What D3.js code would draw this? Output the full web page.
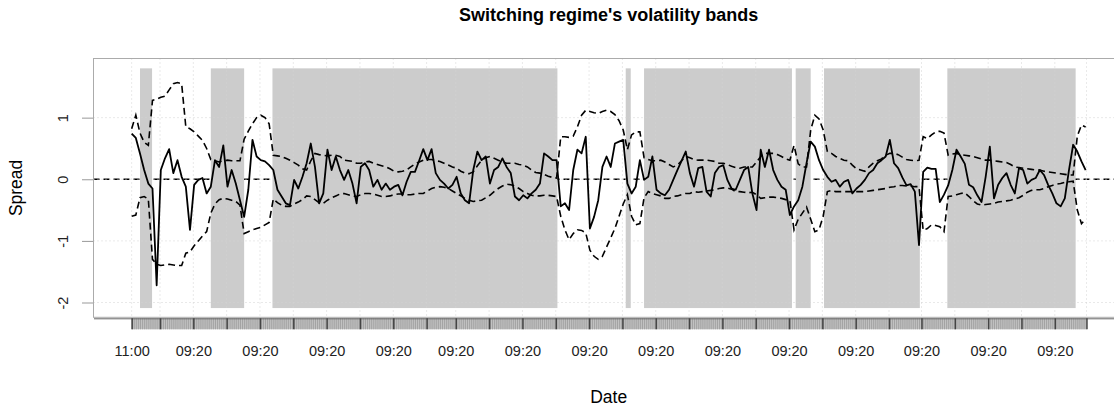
<!DOCTYPE html>
<html>
<head>
<meta charset="utf-8">
<script src="https://cdn.jsdelivr.net/npm/d3@7"></script>
<style>
  body { margin: 0; background: #fff; }
  svg { font-family: "Liberation Sans", Arial, sans-serif; }
</style>
</head>
<body>
<svg id="chart" width="1114" height="408"></svg>
<script>
// spread, one value per observation (index 0..229)
const spread = [
  0.74, 0.67, 0.42, 0.15, -0.07, -0.15, -1.72, 0.15, 0.34, 0.49,
  0.10, 0.31, 0.04, -0.12, -0.82, -0.09, -0.01, 0.02, -0.23, -0.12,
  0.31, 0.20, 0.55, -0.12, 0.15, -0.07, -0.34, -0.61, -0.17, 0.64,
  0.37, 0.31, 0.29, 0.23, 0.15, -0.17, -0.28, -0.39, -0.42, -0.01,
  -0.15, 0.04, 0.26, 0.58, 0.20, -0.39, -0.23, 0.48, 0.15, 0.37,
  0.15, -0.01, 0.15, -0.07, -0.39, 0.20, 0.26, 0.15, -0.12, -0.01,
  -0.17, -0.07, -0.17, -0.12, -0.09, -0.26, -0.04, 0.12, 0.12, 0.30,
  0.49, 0.31, 0.49, 0.10, -0.01, -0.07, -0.15, -0.09, 0.04, -0.23,
  -0.34, -0.39, 0.15, 0.45, 0.31, 0.37, -0.07, 0.15, 0.20, 0.34,
  0.20, 0.10, -0.28, -0.34, -0.26, -0.31, -0.23, -0.17, -0.07, 0.42,
  0.37, 0.31, 0.31, -0.44, -0.39, -0.50, 0.15, 0.48, 0.42, 0.69,
  -0.80, -0.61, -0.34, 0.20, 0.37, 0.20, 0.58, 0.61, 0.64, -0.07,
  -0.23, -0.12, 0.31, -0.01, 0.04, 0.37, -0.17, -0.23, -0.26, -0.17,
  -0.01, 0.15, 0.30, 0.45, 0.10, -0.12, 0.18, 0.20, -0.20, -0.28,
  0.10, 0.20, 0.23, -0.01, -0.15, -0.17, -0.01, 0.15, 0.20, -0.23,
  -0.50, 0.48, 0.20, 0.48, 0.15, -0.01, -0.12, -0.17, -0.58, -0.44,
  -0.34, -0.12, 0.26, 0.61, 0.53, 0.31, 0.15, 0.04, -0.04, -0.01,
  -0.12, -0.04, -0.01, -0.23, -0.15, -0.09, -0.01, 0.10, 0.15, 0.26,
  0.31, 0.37, 0.64, 0.26, 0.18, 0.03, -0.10, -0.08, -0.20, -1.07,
  0.12, 0.19, 0.17, 0.17, -0.37, -0.25, -0.10, 0.15, 0.48, 0.37,
  0.25, -0.09, -0.13, -0.26, -0.37, 0.04, 0.53, -0.31, -0.09, 0.02,
  0.10, -0.09, -0.23, 0.18, 0.15, -0.07, -0.01, 0.02, 0.15, 0.07,
  -0.09, -0.23, -0.39, -0.44, -0.31, 0.15, 0.56, 0.45, 0.29, 0.15
];

// upper volatility band, same index
const upperBand = [
  0.82, 1.04, 0.75, 0.60, 0.55, 1.28, 1.30, 1.33, 1.35, 1.45,
  1.55, 1.57, 1.55, 0.85, 0.82, 0.77, 0.70, 0.63, 0.50, 0.32,
  0.30, 0.28, 0.30, 0.31, 0.30, 0.30, 0.30, 0.65, 0.78, 0.90,
  1.00, 1.04, 1.00, 0.90, 0.39, 0.38, 0.37, 0.34, 0.31, 0.27,
  0.23, 0.17, 0.15, 0.30, 0.42, 0.40, 0.39, 0.38, 0.39, 0.39,
  0.37, 0.31, 0.30, 0.29, 0.26, 0.26, 0.28, 0.29, 0.26, 0.24,
  0.22, 0.20, 0.17, 0.13, 0.12, 0.13, 0.15, 0.20, 0.25, 0.28,
  0.31, 0.32, 0.32, 0.30, 0.29, 0.26, 0.23, 0.20, 0.18, 0.13,
  0.10, 0.09, 0.12, 0.22, 0.31, 0.35, 0.37, 0.34, 0.31, 0.28,
  0.26, 0.26, 0.26, 0.24, 0.23, 0.20, 0.15, 0.11, 0.10, 0.08,
  0.05, 0.03, 0.02, 0.69, 0.69, 0.68, 0.70, 0.85, 1.04, 1.12,
  1.10, 1.08, 1.07, 1.10, 1.12, 1.10, 1.05, 0.95, 0.80, 0.48,
  0.72, 0.77, 0.77, 0.35, 0.32, 0.30, 0.30, 0.31, 0.28, 0.24,
  0.20, 0.23, 0.30, 0.37, 0.35, 0.32, 0.31, 0.31, 0.31, 0.30,
  0.29, 0.26, 0.26, 0.24, 0.21, 0.19, 0.18, 0.20, 0.20, 0.20,
  0.28, 0.37, 0.42, 0.42, 0.42, 0.40, 0.37, 0.33, 0.31, 0.55,
  0.25, 0.20, 0.20, 0.80, 1.04, 0.98, 0.80, 0.45, 0.42, 0.37,
  0.34, 0.31, 0.30, 0.23, 0.17, 0.15, 0.13, 0.20, 0.26, 0.30,
  0.33, 0.39, 0.42, 0.42, 0.40, 0.36, 0.32, 0.31, 0.30, 0.31,
  0.69, 0.66, 0.72, 0.77, 0.78, 0.75, 0.39, 0.41, 0.42, 0.40,
  0.39, 0.38, 0.37, 0.35, 0.33, 0.31, 0.31, 0.30, 0.29, 0.28,
  0.27, 0.24, 0.20, 0.19, 0.18, 0.17, 0.16, 0.15, 0.15, 0.13,
  0.12, 0.11, 0.10, 0.09, 0.08, 0.07, 0.07, 0.70, 0.88, 0.85
];

// lower volatility band, same index
const lowerBand = [
  -0.60, -0.58, -0.30, -0.28, -0.32, -1.30, -1.38, -1.40, -1.39, -1.38,
  -1.39, -1.40, -1.40, -1.20, -1.18, -1.08, -1.00, -0.92, -0.85, -0.55,
  -0.40, -0.33, -0.31, -0.32, -0.34, -0.36, -0.42, -0.88, -0.85, -0.82,
  -0.80, -0.78, -0.74, -0.70, -0.32, -0.38, -0.42, -0.44, -0.44, -0.40,
  -0.37, -0.33, -0.27, -0.28, -0.33, -0.38, -0.39, -0.34, -0.30, -0.27,
  -0.24, -0.23, -0.25, -0.27, -0.28, -0.25, -0.23, -0.23, -0.24, -0.26,
  -0.28, -0.28, -0.27, -0.25, -0.24, -0.24, -0.25, -0.25, -0.24, -0.23,
  -0.23, -0.19, -0.15, -0.13, -0.12, -0.13, -0.15, -0.19, -0.23, -0.27,
  -0.31, -0.34, -0.36, -0.35, -0.34, -0.30, -0.26, -0.20, -0.15, -0.11,
  -0.08, -0.09, -0.11, -0.15, -0.20, -0.23, -0.26, -0.27, -0.27, -0.26,
  -0.26, -0.27, -0.28, -0.60, -0.82, -0.98, -0.88, -0.82, -0.83, -0.87,
  -1.15, -1.25, -1.30, -1.25, -1.10, -0.95, -0.80, -0.60, -0.40, -0.25,
  -0.60, -0.74, -0.72, -0.30, -0.20, -0.23, -0.25, -0.27, -0.31, -0.31,
  -0.28, -0.27, -0.25, -0.23, -0.23, -0.20, -0.21, -0.20, -0.19, -0.18,
  -0.17, -0.15, -0.14, -0.14, -0.16, -0.20, -0.20, -0.21, -0.22, -0.21,
  -0.25, -0.31, -0.30, -0.29, -0.29, -0.30, -0.31, -0.33, -0.34, -0.82,
  -0.65, -0.55, -0.45, -0.65, -0.85, -0.82, -0.60, -0.20, -0.18, -0.20,
  -0.20, -0.20, -0.20, -0.20, -0.20, -0.20, -0.20, -0.19, -0.18, -0.17,
  -0.16, -0.15, -0.13, -0.12, -0.10, -0.10, -0.11, -0.11, -0.12, -0.12,
  -0.83, -0.80, -0.74, -0.75, -0.77, -0.85, -0.28, -0.27, -0.25, -0.23,
  -0.22, -0.28, -0.35, -0.40, -0.42, -0.41, -0.40, -0.39, -0.37, -0.36,
  -0.35, -0.34, -0.32, -0.30, -0.26, -0.21, -0.18, -0.17, -0.17, -0.15,
  -0.12, -0.10, -0.08, -0.07, -0.05, -0.04, -0.03, -0.50, -0.72, -0.65
];

// shaded (low volatility) regimes, start/end as observation index
const regimeStart = [2.0, 19.0, 33.8, 118.6, 123.0, 159.4, 166.2, 195.8];
const regimeEnd   = [4.9, 27.0, 102.2, 119.8, 158.5, 163.0, 189.2, 226.6];
const shadeRange = [-2.09, 1.8];

// date axis ticks (observation index) and their labels
const tickIdx = [0, 6.8, 14.8, 22.8, 30.8, 38.8, 46.8, 54.8, 62.8, 70.8,
  77.8, 85.8, 93.8, 101.8, 109.8, 117.8, 125.8, 133.8, 141.8, 149.8,
  157.8, 165.8, 173.8, 181.8, 189.6, 197.6, 205.6, 213.6, 221.6, 229.2];
const tickLabels = ["11:00", "", "09:20", "", "09:20", "", "09:20", "", "09:20", "",
  "09:20", "", "09:20", "", "09:20", "", "09:20", "", "09:20", "",
  "09:20", "", "09:20", "", "09:20", "", "09:20", "", "09:20", ""];
const yTicks = [-2, -1, 0, 1];

const width = 1114, height = 408;
const box = {left: 93.5, right: 1123.8, top: 58.5, bottom: 317.3};
const n = spread.length;

const x = d3.scaleLinear()
  .domain([-0.04 * (n - 1), (n - 1) * 1.04])
  .range([box.left, box.right]);
const y = d3.scaleLinear()
  .domain([-2.24, 1.96])
  .range([box.bottom, box.top]);

const svg = d3.select("#chart");

// zero reference line (sits under the regime shading)
svg.append("line")
  .attr("x1", box.left).attr("x2", box.right)
  .attr("y1", y(0)).attr("y2", y(0))
  .attr("stroke", "#000")
  .attr("stroke-width", 1.4)
  .attr("stroke-dasharray", "6,4");

// regime shading
svg.append("g")
  .selectAll("rect")
  .data(d3.range(regimeStart.length))
  .join("rect")
    .attr("x", k => x(regimeStart[k]))
    .attr("width", k => x(regimeEnd[k]) - x(regimeStart[k]))
    .attr("y", y(shadeRange[1]))
    .attr("height", y(shadeRange[0]) - y(shadeRange[1]))
    .attr("fill", "#cccccc");

// dotted grid
const grid = svg.append("g")
  .attr("stroke", "#d3d3d3")
  .attr("stroke-dasharray", "1,3");
grid.selectAll("line.v")
  .data(tickIdx)
  .join("line")
    .attr("class", "v")
    .attr("x1", d => x(d)).attr("x2", d => x(d))
    .attr("y1", box.top).attr("y2", box.bottom);
grid.selectAll("line.h")
  .data(yTicks)
  .join("line")
    .attr("class", "h")
    .attr("x1", box.left).attr("x2", box.right)
    .attr("y1", d => y(d)).attr("y2", d => y(d));

// volatility bands
const line = d3.line()
  .x((d, i) => x(i))
  .y(d => y(d));

[upperBand, lowerBand].forEach(band => {
  svg.append("path")
    .attr("d", line(band))
    .attr("fill", "none")
    .attr("stroke", "#000")
    .attr("stroke-width", 1.6)
    .attr("stroke-dasharray", "7,4");
});

// spread
svg.append("path")
  .attr("d", line(spread))
  .attr("fill", "none")
  .attr("stroke", "#000")
  .attr("stroke-width", 1.8)
  .attr("stroke-linejoin", "round");

// plot frame
svg.append("rect")
  .attr("x", box.left).attr("y", box.top)
  .attr("width", box.right - box.left)
  .attr("height", box.bottom - box.top)
  .attr("fill", "none")
  .attr("stroke", "#ababab");

// y axis
const yAxis = d3.axisLeft(y).tickValues(yTicks).tickSize(11).tickFormat(d3.format("d"));
const gy = svg.append("g")
  .attr("transform", `translate(${box.left - 0.5},0)`)
  .call(yAxis);
gy.select(".domain").remove();
gy.selectAll(".tick line").attr("stroke", "#999");
gy.selectAll(".tick text")
  .attr("x", null).attr("dy", null)
  .attr("transform", "translate(-25,0) rotate(-90)")
  .attr("text-anchor", "middle")
  .attr("font-size", 14.5)
  .attr("font-family", "Liberation Sans, Arial, sans-serif")
  .attr("fill", "#222")
  .text(d => d3.format("d")(d).replace("−", "-"));

// x axis: a strip of dense minor ticks, then major ticks with labels
const axisY = box.bottom + 1;
const tickLen = 11;
svg.append("rect")
  .attr("x", x(tickIdx[0]))
  .attr("y", axisY)
  .attr("width", x(tickIdx[tickIdx.length - 1]) - x(tickIdx[0]))
  .attr("height", tickLen)
  .attr("fill", "#c2c2c2");

const minor = d3.range(0, n - 0.5, 0.5);
const gMinor = svg.append("g")
  .attr("transform", `translate(0,${axisY})`)
  .call(d3.axisBottom(x).tickValues(minor).tickSize(tickLen).tickSizeOuter(0).tickFormat(""));
gMinor.selectAll(".tick line").attr("stroke", "#9a9a9a").attr("stroke-width", 0.8);
gMinor.select(".domain").remove();

const gx = svg.append("g")
  .attr("transform", `translate(0,${axisY})`)
  .call(d3.axisBottom(x).tickValues(tickIdx).tickSize(tickLen).tickSizeOuter(0)
    .tickFormat((d, i) => tickLabels[i]));
gx.select(".domain").attr("stroke", "#666");
gx.selectAll(".tick line").attr("stroke", "#444").attr("stroke-width", 1.5);
gx.selectAll(".tick text")
  .attr("y", 38).attr("dy", null)
  .attr("font-size", 14.5)
  .attr("font-family", "Liberation Sans, Arial, sans-serif")
  .attr("fill", "#222");

// titles
svg.append("text")
  .attr("x", (box.left + box.right) / 2).attr("y", 21)
  .attr("text-anchor", "middle")
  .attr("font-size", 18).attr("font-weight", "bold")
  .text("Switching regime's volatility bands");

svg.append("text")
  .attr("x", (box.left + box.right) / 2).attr("y", 402.5)
  .attr("text-anchor", "middle")
  .attr("font-size", 17.5)
  .text("Date");

svg.append("text")
  .attr("transform", `translate(22,${(box.top + box.bottom) / 2}) rotate(-90)`)
  .attr("text-anchor", "middle")
  .attr("font-size", 17.5)
  .text("Spread");
</script>
</body>
</html>
